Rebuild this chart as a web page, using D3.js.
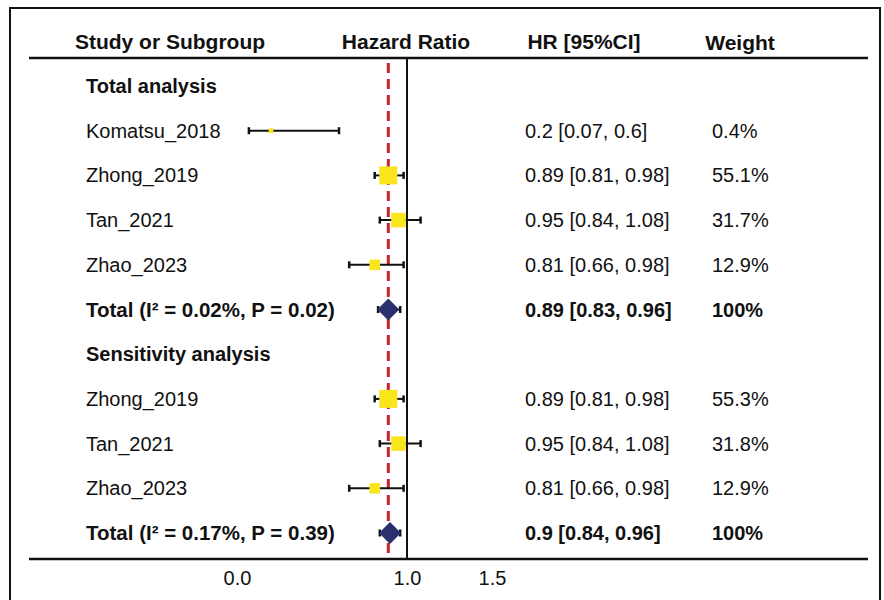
<!DOCTYPE html>
<html>
<head>
<meta charset="utf-8">
<script src="https://cdn.jsdelivr.net/npm/d3@7"></script>
<style>
  body { margin: 0; background: #fff; }
  text { font-family: "Liberation Sans", Arial, sans-serif; fill: #111; }
</style>
</head>
<body>
<script>
// forest plot data, one entry per row
const rowLabels = ['Total analysis', 'Komatsu_2018', 'Zhong_2019', 'Tan_2021', 'Zhao_2023',
    'Total (I\u00b2 = 0.02%, P = 0.02)', 'Sensitivity analysis', 'Zhong_2019', 'Tan_2021', 'Zhao_2023',
    'Total (I\u00b2 = 0.17%, P = 0.39)'];
const rowTypes = ['group', 'study', 'study', 'study', 'study', 'total',
    'group', 'study', 'study', 'study', 'total'];
const hr = [null, 0.2, 0.89, 0.95, 0.81, 0.89, null, 0.89, 0.95, 0.81, 0.9];
const lower = [null, 0.07, 0.81, 0.84, 0.66, 0.83, null, 0.81, 0.84, 0.66, 0.84];
const upper = [null, 0.6, 0.98, 1.08, 0.98, 0.96, null, 0.98, 1.08, 0.98, 0.96];
const weights = [null, 0.4, 55.1, 31.7, 12.9, 100, null, 55.3, 31.8, 12.9, 100];
const headers = ['Study or Subgroup', 'Hazard Ratio', 'HR [95%CI]', 'Weight'];
const tickValues = [0, 1, 1.5];
const pooledHR = 0.89;

const width = 884;
const height = 600;

const svg = d3.select('body').append('svg')
    .attr('width', width)
    .attr('height', height);

const rows = rowLabels.map((label, i) => ({
    i, label, type: rowTypes[i], hr: hr[i], lo: lower[i], hi: upper[i], w: weights[i]
}));

const x = d3.scaleLinear().domain([0, 1.5]).range([237, 492]);
const y = d3.scalePoint().domain(d3.range(rows.length)).range([86, 533]);
const boxSize = d3.scaleSqrt().domain([0, 55.3]).range([3.5, 18]);

const topLine = 58;
const axisY = 559;

// outer frame
svg.append('rect')
    .attr('x', 10).attr('y', 8)
    .attr('width', 870).attr('height', 620)
    .attr('fill', 'none')
    .attr('stroke', '#111')
    .attr('stroke-width', 2);

// header
const headerX = [170, 406, 584, 740];
svg.append('g')
    .selectAll('text')
    .data(headers)
    .enter().append('text')
    .attr('x', (d, i) => headerX[i])
    .attr('y', (d, i) => i === 3 ? 43 : 42)
    .attr('dy', '0.35em')
    .attr('text-anchor', 'middle')
    .style('font-size', '21px')
    .style('font-weight', 'bold')
    .text(d => d);

svg.append('line')
    .attr('x1', 29).attr('x2', 868)
    .attr('y1', topLine).attr('y2', topLine)
    .attr('stroke', '#111').attr('stroke-width', 2.5);

svg.append('line')
    .attr('x1', 29).attr('x2', 868)
    .attr('y1', axisY).attr('y2', axisY)
    .attr('stroke', '#111').attr('stroke-width', 2.5);

// reference lines
svg.append('line')
    .attr('x1', x(1)).attr('x2', x(1))
    .attr('y1', topLine).attr('y2', axisY)
    .attr('stroke', '#111').attr('stroke-width', 2);

svg.append('line')
    .attr('x1', x(pooledHR)).attr('x2', x(pooledHR))
    .attr('y1', topLine + 5).attr('y2', axisY)
    .attr('stroke', '#c9212e').attr('stroke-width', 3)
    .attr('stroke-dasharray', '10,6');

// labels
svg.append('g')
    .selectAll('text')
    .data(rows)
    .enter().append('text')
    .attr('x', 86)
    .attr('y', d => y(d.i))
    .attr('dy', '0.35em')
    .style('font-size', d => d.type === 'total' ? '20.5px' : '20px')
    .style('font-weight', d => d.type === 'study' ? 'normal' : 'bold')
    .text(d => d.label);

const dataRows = rows.filter(d => d.hr !== null);

svg.append('g')
    .selectAll('text')
    .data(dataRows)
    .enter().append('text')
    .attr('x', 525)
    .attr('y', d => y(d.i))
    .attr('dy', '0.35em')
    .style('font-size', '20px')
    .style('font-weight', d => d.type === 'total' ? 'bold' : 'normal')
    .text(d => `${d.hr} [${d.lo}, ${d.hi}]`);

svg.append('g')
    .selectAll('text')
    .data(dataRows)
    .enter().append('text')
    .attr('x', 712)
    .attr('y', d => y(d.i))
    .attr('dy', '0.35em')
    .style('font-size', '20px')
    .style('font-weight', d => d.type === 'total' ? 'bold' : 'normal')
    .text(d => `${d.w}%`);

// error bars
const bars = svg.append('g')
    .selectAll('g')
    .data(dataRows)
    .enter().append('g');

bars.append('line')
    .attr('x1', d => x(d.lo)).attr('x2', d => x(d.hi))
    .attr('y1', d => y(d.i)).attr('y2', d => y(d.i))
    .attr('stroke', '#111').attr('stroke-width', 2);

bars.selectAll('.cap')
    .data(d => [d.lo, d.hi].map(v => ({ v, i: d.i })))
    .enter().append('line')
    .attr('class', 'cap')
    .attr('x1', d => x(d.v)).attr('x2', d => x(d.v))
    .attr('y1', d => y(d.i) - 3.5).attr('y2', d => y(d.i) + 3.5)
    .attr('stroke', '#111').attr('stroke-width', 2.5);

// study boxes
svg.append('g')
    .selectAll('rect')
    .data(dataRows.filter(d => d.type === 'study'))
    .enter().append('rect')
    .attr('x', d => x(d.hr) - boxSize(d.w) / 2)
    .attr('y', d => y(d.i) - boxSize(d.w) / 2)
    .attr('width', d => boxSize(d.w))
    .attr('height', d => boxSize(d.w))
    .attr('fill', '#f9e51b');

// pooled diamonds
svg.append('g')
    .selectAll('path')
    .data(dataRows.filter(d => d.type === 'total'))
    .enter().append('path')
    .attr('d', d => {
        const cx = x(d.hr), cy = y(d.i);
        return `M${cx - 11},${cy}L${cx},${cy - 11}L${cx + 11},${cy}L${cx},${cy + 11}Z`;
    })
    .attr('fill', '#2b2f6e');

// x axis
const axis = svg.append('g')
    .attr('transform', `translate(0,${axisY + 1})`)
    .call(d3.axisBottom(x).tickValues(tickValues).tickSize(0).tickFormat(d3.format('.1f')));

axis.select('.domain').remove();
axis.selectAll('text')
    .attr('dy', '0.35em')
    .attr('y', 18)
    .style('font-size', '20px')
    .style('font-family', '"Liberation Sans", Arial, sans-serif')
    .attr('fill', '#111');
</script>
</body>
</html>
